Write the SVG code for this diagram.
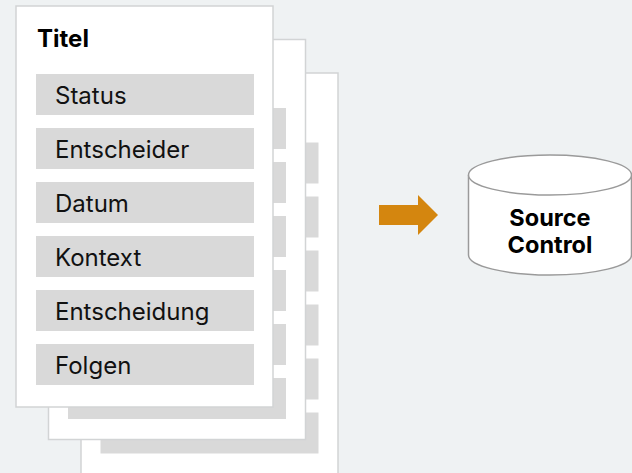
<svg xmlns="http://www.w3.org/2000/svg" width="632" height="473" viewBox="0 0 632 473">
  <style>
    .card { fill: #ffffff; stroke: #d2d4d5; stroke-width: 1.5; }
    .bar { fill: #d9d9d9; }
    .field { font-family: Inter, "Noto Sans", sans-serif; font-size: 24px; fill: #111111; }
    .title { font-family: Inter, "Noto Sans", sans-serif; font-size: 24px; font-weight: 700; fill: #000000; }
    .db { fill: #ffffff; stroke: #9a9a9a; stroke-width: 1.5; }
    .dblabel { font-family: Inter, "Noto Sans", sans-serif; font-size: 23.5px; font-weight: 700; fill: #000000; text-anchor: middle; }
  </style>
  <defs>
    <g id="bars">
      <rect class="bar" x="0" y="0" width="218" height="41"/>
      <rect class="bar" x="0" y="54" width="218" height="41"/>
      <rect class="bar" x="0" y="108" width="218" height="41"/>
      <rect class="bar" x="0" y="162" width="218" height="41"/>
      <rect class="bar" x="0" y="216" width="218" height="41"/>
      <rect class="bar" x="0" y="270" width="218" height="41"/>
    </g>
  </defs>
  <rect width="632" height="473" fill="#eff2f3"/>

  <!-- stacked record sheets, back to front -->
  <g id="sheet-3">
    <rect class="card" x="81" y="73" width="257" height="420"/>
    <use href="#bars" x="100.5" y="142.5"/>
  </g>
  <g id="sheet-2">
    <rect class="card" x="48.5" y="39.5" width="257" height="400"/>
    <use href="#bars" x="68" y="108"/>
  </g>
  <g id="sheet-1">
    <rect class="card" x="16" y="6" width="257" height="401"/>
    <use href="#bars" x="36" y="74"/>
    <text class="title" x="37" y="47">Titel</text>
    <text class="field" x="55" y="104">Status</text>
    <text class="field" x="55" y="158">Entscheider</text>
    <text class="field" x="55" y="212">Datum</text>
    <text class="field" x="55" y="266">Kontext</text>
    <text class="field" x="55" y="320">Entscheidung</text>
    <text class="field" x="55" y="374">Folgen</text>
  </g>

  <g id="connectors">
    <polygon points="379,205 418,205 418,195 438,215 418,235 418,225 379,225" fill="#d4860f"/>
  </g>

  <g id="source-control">
    <path class="db" d="M468.5,175 V255 A81.5,20 0 0 0 631.5,255 V175"/>
    <ellipse class="db" cx="550" cy="175" rx="81.5" ry="20"/>
    <text class="dblabel" x="550" y="226">Source</text>
    <text class="dblabel" x="550" y="253">Control</text>
  </g>
</svg>
